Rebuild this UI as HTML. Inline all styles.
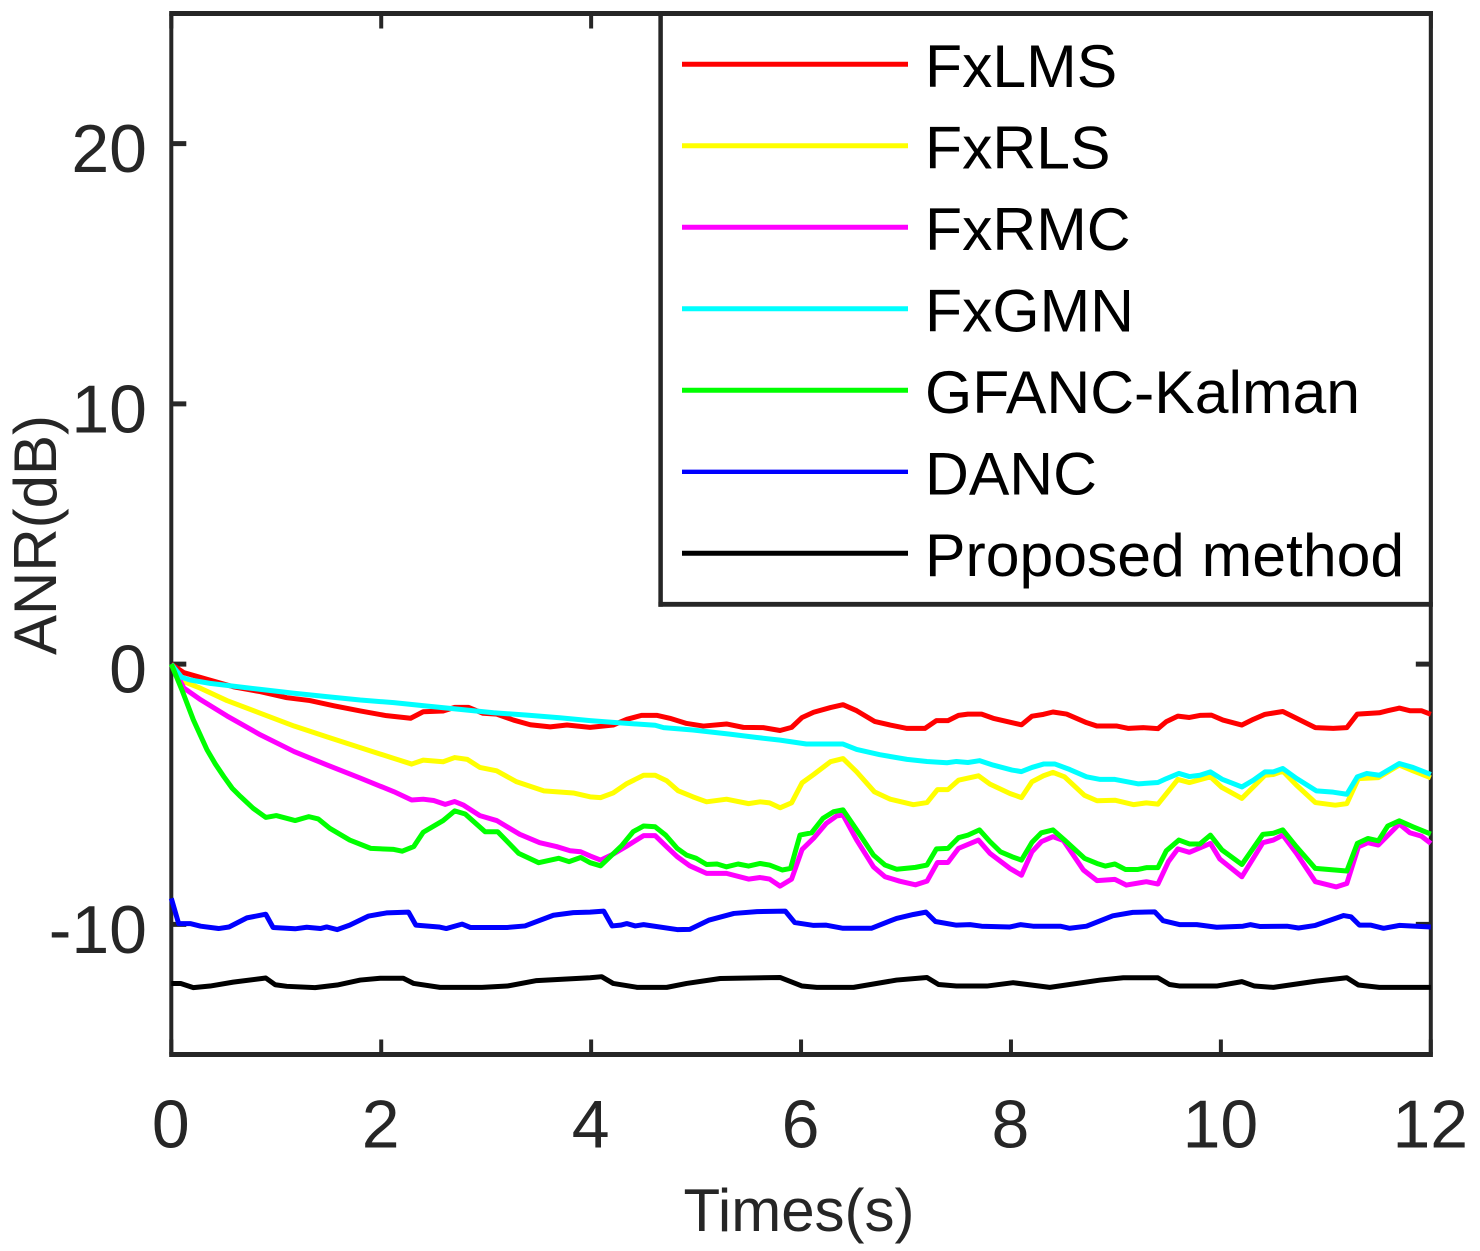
<!DOCTYPE html>
<html lang="en">
<head>
<meta charset="utf-8">
<title>ANR over time</title>
<style>
html,body{margin:0;padding:0;background:#fff}
svg{display:block;font-family:"Liberation Sans",Arial,sans-serif}
</style>
</head>
<body>
<svg id="chart" xmlns="http://www.w3.org/2000/svg" width="1480" height="1251" viewBox="0 0 1480 1251">
  <rect x="171" y="14" width="1260" height="1040" fill="#fff"/>
  <g id="axes"></g>
  <g id="series" fill="none" stroke-linejoin="round" stroke-linecap="butt"></g>
  <g id="legend">
    <rect x="660.6" y="13.5" width="770.2" height="590.8" fill="#fff" stroke="none"/>
    <line x1="660.6" y1="11" x2="660.6" y2="606.7" stroke="#262626" stroke-width="4.5"/>
    <line x1="658.4" y1="604.3" x2="1432.8" y2="604.3" stroke="#262626" stroke-width="4.8"/>
    <line x1="658.4" y1="13.5" x2="1432.8" y2="13.5" stroke="#262626" stroke-width="5"/>
    <line x1="1430.8" y1="11" x2="1430.8" y2="606.7" stroke="#262626" stroke-width="4"/>
    <g>
      <line x1="682" y1="64.3" x2="908" y2="64.3" stroke="#ff0000" stroke-width="5"/>
      <text x="925" y="87" font-size="60.7" fill="#000">FxLMS</text>
    </g>
    <g>
      <line x1="682" y1="145.8" x2="908" y2="145.8" stroke="#ffff00" stroke-width="5"/>
      <text x="925" y="168.5" font-size="60.7" fill="#000">FxRLS</text>
    </g>
    <g>
      <line x1="682" y1="227.3" x2="908" y2="227.3" stroke="#ff00ff" stroke-width="5"/>
      <text x="925" y="250" font-size="60.7" fill="#000">FxRMC</text>
    </g>
    <g>
      <line x1="682" y1="308.8" x2="908" y2="308.8" stroke="#00ffff" stroke-width="5"/>
      <text x="925" y="331.5" font-size="60.7" fill="#000">FxGMN</text>
    </g>
    <g>
      <line x1="682" y1="390.3" x2="908" y2="390.3" stroke="#00ff00" stroke-width="5"/>
      <text x="925" y="413" font-size="60.7" fill="#000">GFANC-Kalman</text>
    </g>
    <g>
      <line x1="682" y1="471.8" x2="908" y2="471.8" stroke="#0000ff" stroke-width="4.4"/>
      <text x="925" y="494.5" font-size="60.7" fill="#000">DANC</text>
    </g>
    <g>
      <line x1="682" y1="553.3" x2="908" y2="553.3" stroke="#000000" stroke-width="5"/>
      <text x="925" y="576" font-size="60.7" fill="#000">Proposed method</text>
    </g>
  </g>
  <text x="799" y="1231" font-size="60" fill="#262626" text-anchor="middle">Times(s)</text>
  <text x="56" y="535" font-size="60" fill="#262626" text-anchor="middle" transform="rotate(-90 56 535)">ANR(dB)</text>
</svg>
<script>
const xTicks = [0, 2, 4, 6, 8, 10, 12];
const yTicks = [-10, 0, 10, 20];
const xDomain = [0, 12];
const yDomain = [-15, 25];

const fxlmsTimes = [
0,.12,.34,.59,.85,1.10,1.32,1.55,1.80,2.05,
2.28,2.40,2.59,2.70,2.83,2.97,3.10,3.26,3.42,3.61,
3.77,3.99,4.21,4.34,4.48,4.63,4.75,4.91,5.07,5.29,
5.45,5.64,5.80,5.91,6.01,6.12,6.28,6.40,6.53,6.70,
6.85,7.01,7.18,7.29,7.40,7.50,7.59,7.72,7.83,7.99,
8.10,8.20,8.31,8.40,8.53,8.72,8.82,9.01,9.12,9.26,
9.40,9.48,9.59,9.70,9.80,9.91,10.02,10.20,10.31,10.42,
10.59,10.72,10.90,11.07,11.20,11.30,11.51,11.59,11.70,11.80,
11.91,12];
const fxlmsValues = [
0,-.33,-.58,-.87,-1.06,-1.29,-1.40,-1.60,-1.80,-1.98,
-2.08,-1.83,-1.80,-1.66,-1.66,-1.89,-1.92,-2.15,-2.33,-2.41,
-2.34,-2.43,-2.34,-2.12,-1.97,-1.97,-2.08,-2.28,-2.38,-2.30,
-2.43,-2.44,-2.55,-2.43,-2.05,-1.85,-1.67,-1.56,-1.79,-2.20,
-2.34,-2.47,-2.47,-2.17,-2.17,-1.97,-1.92,-1.92,-2.08,-2.23,
-2.33,-2.00,-1.93,-1.84,-1.92,-2.25,-2.38,-2.38,-2.47,-2.44,
-2.48,-2.21,-2.00,-2.05,-1.97,-1.96,-2.15,-2.34,-2.12,-1.93,
-1.82,-2.08,-2.44,-2.47,-2.44,-1.92,-1.87,-1.79,-1.69,-1.79,
-1.79,-1.93];

const fxrlsTimes = [
0,.10,.28,.53,.85,1.17,1.48,1.80,2.12,2.29,
2.40,2.59,2.70,2.82,2.94,3.10,3.29,3.55,3.83,3.99,
4.09,4.21,4.34,4.50,4.61,4.72,4.83,4.97,5.10,5.29,
5.50,5.61,5.70,5.80,5.91,6.01,6.12,6.28,6.40,6.53,
6.70,6.85,7.07,7.20,7.30,7.40,7.50,7.69,7.80,7.99,
8.10,8.20,8.31,8.40,8.51,8.70,8.82,8.99,9.17,9.29,
9.40,9.59,9.70,9.90,10.01,10.20,10.42,10.50,10.59,10.72,
10.90,11.09,11.20,11.31,11.50,11.70,11.83,12];
const fxrlsValues = [
0,-.64,-.93,-1.40,-1.89,-2.38,-2.79,-3.21,-3.62,-3.84,
-3.69,-3.75,-3.59,-3.66,-3.97,-4.10,-4.52,-4.87,-4.95,-5.10,
-5.13,-4.95,-4.59,-4.27,-4.27,-4.48,-4.87,-5.10,-5.29,-5.19,
-5.36,-5.29,-5.33,-5.52,-5.33,-4.56,-4.24,-3.75,-3.63,-4.14,
-4.91,-5.19,-5.40,-5.32,-4.82,-4.82,-4.46,-4.29,-4.61,-4.97,
-5.13,-4.52,-4.29,-4.16,-4.33,-5.04,-5.25,-5.23,-5.40,-5.33,
-5.38,-4.43,-4.55,-4.33,-4.74,-5.16,-4.27,-4.24,-4.11,-4.65,
-5.32,-5.42,-5.36,-4.40,-4.36,-3.88,-4.10,-4.37];

const fxrmcTimes = [
0,.12,.28,.53,.85,1.17,1.48,1.80,2.12,2.29,
2.40,2.50,2.61,2.70,2.78,2.94,3.10,3.32,3.51,3.67,
3.80,3.90,3.99,4.09,4.21,4.34,4.50,4.61,4.72,4.82,
4.94,5.10,5.29,5.50,5.61,5.70,5.80,5.91,6.01,6.12,
6.24,6.34,6.40,6.53,6.69,6.80,6.94,7.09,7.20,7.30,
7.40,7.50,7.69,7.80,7.99,8.10,8.20,8.29,8.40,8.50,
8.69,8.82,8.99,9.10,9.29,9.40,9.50,9.59,9.70,9.90,
9.99,10.20,10.40,10.50,10.59,10.72,10.90,11.10,11.20,11.31,
11.40,11.50,11.70,11.80,11.91,12];
const fxrmcValues = [
0,-.92,-1.37,-1.99,-2.72,-3.36,-3.87,-4.38,-4.90,-5.22,
-5.19,-5.24,-5.39,-5.28,-5.41,-5.82,-6.01,-6.54,-6.86,-7.01,
-7.17,-7.21,-7.37,-7.53,-7.30,-6.99,-6.59,-6.59,-7.02,-7.40,
-7.75,-8.04,-8.04,-8.26,-8.20,-8.26,-8.53,-8.26,-7.12,-6.69,
-6.12,-5.83,-5.80,-6.76,-7.79,-8.17,-8.34,-8.48,-8.34,-7.62,
-7.62,-7.08,-6.76,-7.27,-7.85,-8.11,-7.21,-6.82,-6.63,-6.78,
-7.91,-8.32,-8.27,-8.49,-8.36,-8.45,-7.59,-7.10,-7.23,-6.89,
-7.49,-8.17,-6.86,-6.76,-6.57,-7.27,-8.36,-8.56,-8.43,-7.02,
-6.86,-6.95,-6.14,-6.48,-6.61,-6.89];

const fxgmnTimes = [
0,.10,.18,.37,.85,1.17,1.48,1.80,2.12,2.43,
2.75,3.07,3.39,3.70,3.99,4.21,4.61,4.69,4.97,5.32,
5.58,5.80,6.05,6.40,6.53,6.75,7.01,7.20,7.39,7.48,
7.59,7.70,7.83,8.01,8.10,8.20,8.31,8.42,8.56,8.72,
8.85,8.99,9.21,9.40,9.48,9.60,9.70,9.80,9.90,10.01,
10.20,10.31,10.42,10.50,10.59,10.72,10.91,11.07,11.20,11.30,
11.39,11.51,11.70,11.83,12];
const fxgmnValues = [
0,-.51,-.61,-.74,-.97,-1.12,-1.25,-1.38,-1.48,-1.61,
-1.74,-1.87,-1.96,-2.06,-2.17,-2.24,-2.35,-2.44,-2.53,-2.69,
-2.82,-2.92,-3.07,-3.07,-3.28,-3.48,-3.66,-3.74,-3.79,-3.74,
-3.78,-3.71,-3.88,-4.07,-4.13,-3.97,-3.84,-3.84,-4.05,-4.33,
-4.43,-4.43,-4.60,-4.55,-4.40,-4.20,-4.32,-4.27,-4.14,-4.42,
-4.72,-4.46,-4.14,-4.14,-4.01,-4.39,-4.87,-4.92,-5.00,-4.33,
-4.20,-4.27,-3.82,-3.97,-4.24];

const gfancKalmanTimes = [
0,.10,.21,.28,.34,.42,.50,.58,.66,.78,.90,1.0,1.18,
1.31,1.40,1.51,1.70,1.90,2.12,2.20,2.31,2.40,2.59,
2.70,2.80,2.99,3.11,3.31,3.50,3.69,3.79,3.90,3.99,
4.09,4.29,4.40,4.50,4.61,4.71,4.82,4.91,5.0,5.10,
5.20,5.29,5.40,5.50,5.61,5.70,5.82,5.90,5.99,6.10,
6.21,6.31,6.40,6.53,6.69,6.80,6.91,7.09,7.20,7.29,
7.40,7.50,7.59,7.70,7.80,7.90,8.01,8.10,8.20,8.29,
8.40,8.51,8.70,8.82,8.90,8.99,9.09,9.21,9.29,9.40,
9.48,9.60,9.70,9.80,9.90,10.01,10.20,10.40,10.50,10.59,
10.72,10.90,11.20,11.30,11.40,11.50,11.59,11.70,11.83,12];
const gfancKalmanValues = [
0,-.98,-2.14,-2.76,-3.29,-3.84,-4.32,-4.77,-5.09,-5.54,-5.89,-5.82,-6.01,
-5.86,-5.95,-6.31,-6.76,-7.08,-7.12,-7.19,-7.01,-6.46,-6.01,
-5.64,-5.76,-6.44,-6.44,-7.27,-7.63,-7.46,-7.59,-7.43,-7.63,
-7.75,-6.98,-6.44,-6.22,-6.25,-6.57,-7.08,-7.34,-7.46,-7.70,
-7.68,-7.79,-7.68,-7.76,-7.66,-7.72,-7.91,-7.85,-6.57,-6.48,
-5.92,-5.67,-5.60,-6.37,-7.34,-7.72,-7.88,-7.81,-7.72,-7.10,
-7.08,-6.67,-6.57,-6.37,-6.82,-7.21,-7.40,-7.53,-6.85,-6.48,
-6.37,-6.76,-7.46,-7.66,-7.76,-7.68,-7.89,-7.89,-7.82,-7.82,
-7.17,-6.76,-6.91,-6.91,-6.57,-7.14,-7.70,-6.54,-6.50,-6.37,
-7.02,-7.85,-7.95,-6.89,-6.70,-6.79,-6.22,-6.02,-6.25,-6.53];

const dancTimes = [
0,.07,.18,.28,.45,.55,.72,.90,.97,1.18,
1.29,1.42,1.48,1.58,1.70,1.88,2.05,2.26,2.33,2.55,
2.62,2.77,2.85,3.20,3.37,3.64,3.83,3.99,4.12,4.20,
4.28,4.34,4.42,4.50,4.82,4.94,5.12,5.36,5.58,5.85,
5.94,6.12,6.24,6.40,6.67,6.91,7.07,7.19,7.28,7.48,
7.61,7.72,7.99,8.09,8.21,8.47,8.56,8.72,8.97,9.16,
9.37,9.45,9.61,9.77,9.96,10.21,10.28,10.37,10.63,10.74,
10.90,11.17,11.24,11.32,11.43,11.55,11.70,12];
const dancValues = [
-9.00,-9.97,-9.97,-10.07,-10.16,-10.10,-9.75,-9.61,-10.12,-10.17,
-10.11,-10.16,-10.10,-10.20,-10.03,-9.68,-9.56,-9.53,-10.03,-10.10,
-10.16,-9.99,-10.12,-10.12,-10.06,-9.65,-9.55,-9.53,-9.49,-10.06,
-10.03,-9.97,-10.06,-10.01,-10.20,-10.19,-9.84,-9.58,-9.51,-9.49,
-9.93,-10.04,-10.03,-10.15,-10.15,-9.77,-9.62,-9.53,-9.89,-10.03,
-10.01,-10.07,-10.10,-10.01,-10.07,-10.07,-10.15,-10.07,-9.67,-9.54,
-9.52,-9.86,-10.01,-10.01,-10.11,-10.07,-10.01,-10.08,-10.07,-10.14,
-10.04,-9.66,-9.71,-10.03,-10.03,-10.15,-10.04,-10.10];

const proposedTimes = [
0,.09,.21,.37,.59,.90,.99,1.10,1.37,1.58,
1.80,1.99,2.21,2.31,2.56,2.96,3.20,3.48,3.99,4.10,
4.21,4.44,4.72,4.91,5.23,5.80,6.01,6.15,6.50,6.91,
7.20,7.31,7.48,7.77,8.02,8.37,8.85,9.07,9.40,9.51,
9.61,9.96,10.20,10.32,10.50,10.91,11.20,11.31,11.51,12];
const proposedValues = [
-12.27,-12.27,-12.43,-12.37,-12.22,-12.06,-12.32,-12.38,-12.43,-12.33,
-12.14,-12.07,-12.07,-12.27,-12.42,-12.42,-12.37,-12.16,-12.05,-12.01,
-12.27,-12.42,-12.42,-12.27,-12.08,-12.04,-12.37,-12.42,-12.42,-12.14,
-12.04,-12.31,-12.37,-12.37,-12.24,-12.42,-12.14,-12.05,-12.05,-12.31,
-12.37,-12.37,-12.20,-12.37,-12.42,-12.18,-12.05,-12.33,-12.42,-12.42];

const plotLeft = 171.3, plotRight = 1430.8, plotTop = 13.5, plotBottom = 1054.5;
const ink = '#262626';
const SVG_NS = 'http://www.w3.org/2000/svg';

function xScale(t) {
  return plotLeft + (t - xDomain[0]) / (xDomain[1] - xDomain[0]) * (plotRight - plotLeft);
}
function yScale(v) {
  return plotBottom - (v - yDomain[0]) / (yDomain[1] - yDomain[0]) * (plotBottom - plotTop);
}

const axes = document.getElementById('axes');

function segment(name, x1, y1, x2, y2, width) {
  const el = document.createElementNS(SVG_NS, 'line');
  
  
  el.setAttribute('x1', x1);
  el.setAttribute('y1', y1);
  el.setAttribute('x2', x2);
  el.setAttribute('y2', y2);
  el.setAttribute('stroke', ink);
  el.setAttribute('stroke-width', width);
  axes.appendChild(el);
}

function label(name, x, y, anchor, content) {
  const el = document.createElementNS(SVG_NS, 'text');
  
  
  el.setAttribute('x', x);
  el.setAttribute('y', y);
  el.setAttribute('text-anchor', anchor);
  el.setAttribute('font-size', '68');
  el.setAttribute('fill', ink);
  el.textContent = content;
  axes.appendChild(el);
}

segment('plot-frame-left', plotLeft, plotTop - 2.5, plotLeft, plotBottom + 2.5, 4);
segment('plot-frame-right', plotRight, plotTop - 2.5, plotRight, plotBottom + 2.5, 4);
segment('plot-frame-top', plotLeft - 2, plotTop, plotRight + 2, plotTop, 5);
segment('plot-frame-bottom', plotLeft - 2, plotBottom, plotRight + 2, plotBottom, 5);

xTicks.forEach(function (tick) {
  const x = xScale(tick);
  segment('x-tick-bottom-' + tick, x, plotBottom, x, plotBottom - 15, 4);
  segment('x-tick-top-' + tick, x, plotTop, x, plotTop + 15, 4);
  label('x-tick-label-' + tick, x - 0.5, 1147.5, 'middle', String(tick));
});

yTicks.forEach(function (tick) {
  const y = yScale(tick);
  segment('y-tick-left-' + tick, plotLeft, y, plotLeft + 15, y, 5);
  segment('y-tick-right-' + tick, plotRight, y, plotRight - 15, y, 5);
  label('y-tick-label-' + tick, 147, y + 28.5, 'end', String(tick));
});

const seriesLayer = document.getElementById('series');

function drawSeries(name, color, width, times, values) {
  const commands = times.map(function (t, i) {
    return (i ? 'L' : 'M') + xScale(t).toFixed(2) + ' ' + yScale(values[i]).toFixed(2);
  });
  const path = document.createElementNS(SVG_NS, 'path');
  
  
  path.setAttribute('d', commands.join(''));
  path.setAttribute('stroke', color);
  path.setAttribute('stroke-width', width);
  seriesLayer.appendChild(path);
}

drawSeries('fxlms-line', '#ff0000', 5, fxlmsTimes, fxlmsValues);
drawSeries('fxrls-line', '#ffff00', 5, fxrlsTimes, fxrlsValues);
drawSeries('fxrmc-line', '#ff00ff', 5, fxrmcTimes, fxrmcValues);
drawSeries('fxgmn-line', '#00ffff', 5, fxgmnTimes, fxgmnValues);
drawSeries('gfanc-kalman-line', '#00ff00', 5, gfancKalmanTimes, gfancKalmanValues);
drawSeries('danc-line', '#0000ff', 5, dancTimes, dancValues);
drawSeries('proposed-method-line', '#000000', 5, proposedTimes, proposedValues);
</script>
</body>
</html>
